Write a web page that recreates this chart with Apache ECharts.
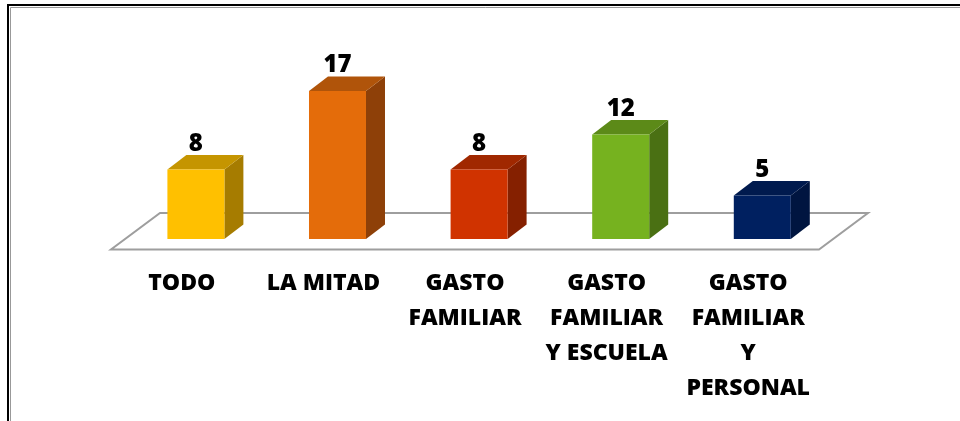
<!DOCTYPE html>
<html>
<head>
<meta charset="utf-8">
<script src="https://cdn.jsdelivr.net/npm/echarts@6/dist/echarts.min.js"></script>
<style>
html,body{margin:0;padding:0;background:#fff;}
#chart{width:960px;height:421px;}
</style>
</head>
<body>
<div id="chart"></div>
<script>
var categories = ['TODO', 'LA MITAD', 'GASTO\nFAMILIAR', 'GASTO\nFAMILIAR\nY ESCUELA', 'GASTO\nFAMILIAR\nY\nPERSONAL'];
var values = [8, 17, 8, 12, 5];

// colours of each bar: front, top, side
var frontColors = ['#FFC000', '#E46C0A', '#D03300', '#76B21F', '#002060'];
var topColors   = ['#C59500', '#B0540A', '#A02800', '#5C8A18', '#001A4E'];
var sideColors  = ['#A67C00', '#8E4008', '#852000', '#4A7013', '#001540'];

// fake 3d depth
var floorDx = 49, floorDy = -36.5;
var barDx = 19, barDy = -14.5;
var barLift = 10.5;   // bar front bottom sits above floor front edge
var barShift = barLift * floorDx / -floorDy;
var barW = 57;

var chart = echarts.init(document.getElementById('chart'));

function renderFloor(params, api) {
	var cs = params.coordSys;
	var y0 = cs.y + cs.height + barLift;
	var x0 = cs.x, x1 = cs.x + cs.width;
	return {
		type: 'polygon',
		shape: {points: [[x0, y0], [x1, y0], [x1 + floorDx, y0 + floorDy], [x0 + floorDx, y0 + floorDy]]},
		style: {fill: '#fff', stroke: '#9E9E9E', lineWidth: 2}
	};
}

function renderBar(params, api) {
	var i = api.value(0);
	var top = api.coord([i, api.value(1)]);
	var base = api.coord([i, 0]);
	var cx = top[0] + barShift;
	var x = cx - barW / 2, r = x + barW;
	var t = top[1], b = base[1];
	return {
		type: 'group',
		children: [
			{type: 'polygon', shape: {points: [[r, t], [r + barDx, t + barDy], [r + barDx, b + barDy], [r, b]]},
			 style: {fill: sideColors[i]}},
			{type: 'polygon', shape: {points: [[x, t], [x + barDx, t + barDy], [r + barDx, t + barDy], [r, t]]},
			 style: {fill: topColors[i]}},
			{type: 'rect', shape: {x: x, y: t, width: barW, height: b - t},
			 style: {fill: frontColors[i]}},
			{type: 'text', x: cx, y: t + barDy + 1,
			 style: {text: String(api.value(1)), textAlign: 'center', textVerticalAlign: 'bottom',
			         font: '800 24px "Open Sans", "Noto Sans", sans-serif', fill: '#000'}}
		]
	};
}

var option = {
	backgroundColor: '#fff',
	animation: false,
	graphic: [
		{type: 'rect', shape: {x: 8, y: 5, width: 1000, height: 500}, style: {fill: 'none', stroke: '#000', lineWidth: 2}, z: 100},
		{type: 'rect', shape: {x: 10.5, y: 7.5, width: 1000, height: 500}, style: {fill: 'none', stroke: '#999', lineWidth: 1}, z: 100}
	],
	grid: {left: 111, right: 141, top: 65, bottom: 182},
	xAxis: {
		type: 'category',
		data: categories,
		axisLine: {show: false},
		axisTick: {show: false},
		axisLabel: {
			interval: 0,
			margin: 27,
			lineHeight: 35,
			fontSize: 23,
			fontWeight: 800,
			fontFamily: '"Open Sans", "Noto Sans", sans-serif',
			color: '#000'
		}
	},
	yAxis: {
		type: 'value',
		min: 0,
		max: 20,
		show: false,
		splitLine: {show: false}
	},
	series: [
		{
			type: 'custom',
			z: 1,
			renderItem: renderFloor,
			data: [[0, 0]]
		},
		{
			type: 'custom',
			z: 2,
			renderItem: renderBar,
			encode: {x: 0, y: 1},
			data: values.map(function (v, i) { return [i, v]; })
		}
	]
};

chart.setOption(option);
</script>
</body>
</html>
